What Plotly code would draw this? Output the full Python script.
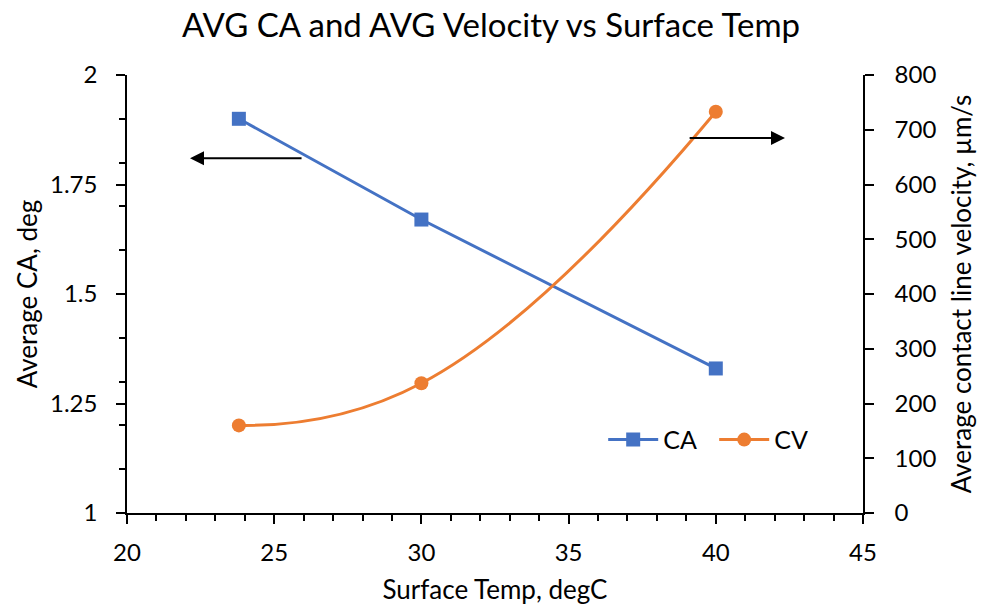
import plotly.graph_objects as go

temp = [23.8, 30, 40]
ca = [1.90, 1.67, 1.33]
cv = [160, 237, 733]

x_ticks = [20, 25, 30, 35, 40, 45]
ca_ticks = [1, 1.25, 1.5, 1.75, 2]
ca_tick_labels = ["1", "1.25", "1.5", "1.75", "2"]
cv_ticks = [0, 100, 200, 300, 400, 500, 600, 700, 800]

FONT = "Lato"
fig = go.Figure()
fig.add_trace(go.Scatter(x=temp, y=ca, name="CA", mode="lines+markers",
                         line=dict(color="#4472C4", width=3),
                         marker=dict(symbol="square", size=14, color="#4472C4")))
fig.add_trace(go.Scatter(x=temp, y=cv, name="CV", mode="lines+markers", yaxis="y2",
                         line=dict(color="#ED7D31", width=3, shape="spline", smoothing=1.3),
                         marker=dict(symbol="circle", size=14, color="#ED7D31")))

axis_common = dict(showgrid=False, zeroline=False, showline=True, linecolor="black",
                   linewidth=1.5, ticks="outside", tickcolor="black", tickwidth=1.5,
                   ticklen=9, tickfont=dict(size=24, color="black", family=FONT),
                   mirror=False, automargin=False)

fig.update_layout(
    width=982, height=612,
    margin=dict(l=127, r=119, t=75, b=99),
    paper_bgcolor="white", plot_bgcolor="white",
    font=dict(family=FONT, color="black"),
    title=dict(text="AVG CA and AVG Velocity vs Surface Temp", x=0.5, xanchor="center",
               y=0.958, yanchor="middle", font=dict(size=33, family=FONT, color="black")),
    xaxis=dict(range=[20, 45], tickvals=x_ticks, ticklabelstandoff=8, **axis_common,
               minor=dict(dtick=1, tick0=20, ticks="outside", ticklen=6, tickcolor="black", tickwidth=1.5),
               title=dict(text="Surface Temp, degC", font=dict(size=26, family=FONT), standoff=16)),
    yaxis=dict(range=[1, 2], tickvals=ca_ticks, ticktext=ca_tick_labels, ticklabelstandoff=14, **axis_common,
               minor=dict(dtick=0.1, tick0=1, ticks="outside", ticklen=6, tickcolor="black", tickwidth=1.5),
               title=dict(text="Average CA, deg", font=dict(size=26, family=FONT), standoff=5)),
    yaxis2=dict(range=[0, 800], tickvals=cv_ticks, overlaying="y", side="right", ticklabelstandoff=16,
                **axis_common,
                title=dict(text="Average contact line velocity, µm/s", font=dict(size=26, family=FONT), standoff=17)),
    legend=dict(orientation="h", x=0.647, y=0.167, xanchor="left", yanchor="middle",
                font=dict(size=25, family=FONT, color="black"), bgcolor="rgba(0,0,0,0)",
                itemwidth=50, entrywidth=46, entrywidthmode="pixels"),
    showlegend=True,
)

fig.add_annotation(x=22.14, y=1.81, ax=25.98, ay=1.81, xref="x", yref="y", axref="x", ayref="y",
                   showarrow=True, arrowhead=2, arrowsize=1.4, arrowwidth=2, arrowcolor="black", text="")
fig.add_annotation(x=42.35, y=1.856, ax=39.06, ay=1.856, xref="x", yref="y", axref="x", ayref="y",
                   showarrow=True, arrowhead=2, arrowsize=1.4, arrowwidth=2, arrowcolor="black", text="")

fig.write_html("out.html")
